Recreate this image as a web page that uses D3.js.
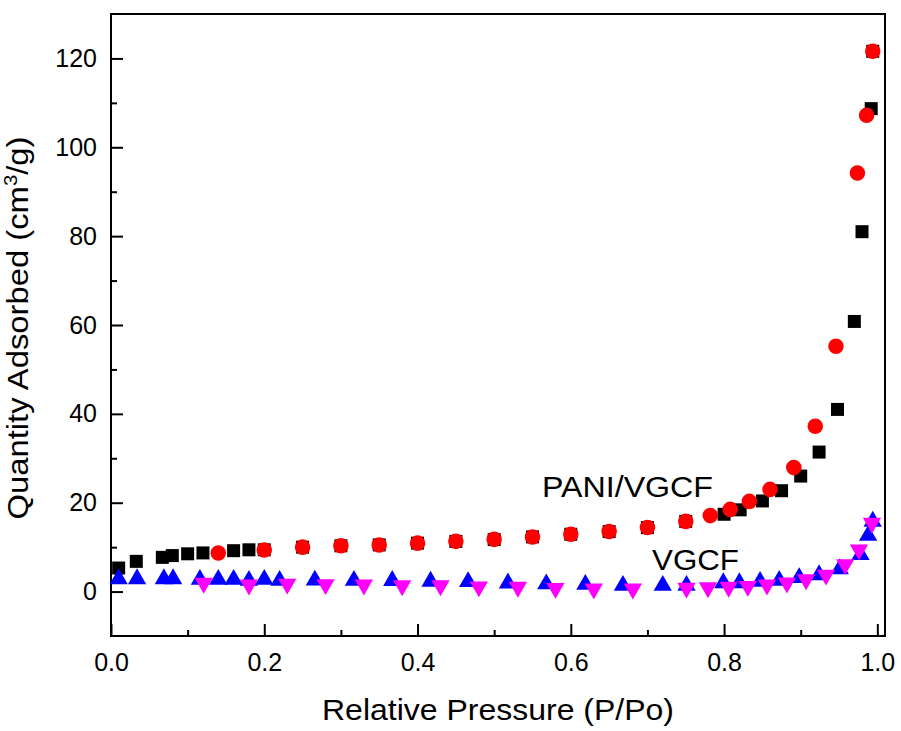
<!DOCTYPE html>
<html>
<head>
<meta charset="utf-8">
<script src="https://cdn.jsdelivr.net/npm/d3@7"></script>
<style>
  body { margin: 0; background: #fff; }
  svg { font-family: Arial, "Liberation Sans", sans-serif; }
  .tick text { font-size: 25px; fill: #000; }
  .tick line { stroke: #000; stroke-width: 2; }
</style>
</head>
<body>
<div id="chart"></div>
<script>
// PANI/VGCF adsorption (black squares)
var paniAdsX = [0.01, 0.033, 0.067, 0.08, 0.10, 0.12, 0.16, 0.18, 0.20, 0.25, 0.30, 0.35, 0.40, 0.45, 0.50,
  0.55, 0.60, 0.65, 0.70, 0.75, 0.80, 0.821, 0.85, 0.875, 0.90, 0.924, 0.948, 0.970, 0.980, 0.992, 0.994];
var paniAdsY = [5.3, 6.8, 7.7, 8.1, 8.5, 8.7, 9.2, 9.4, 9.4, 10.0, 10.3, 10.5, 10.9, 11.3, 11.7,
  12.3, 12.9, 13.5, 14.4, 15.8, 17.4, 18.4, 20.4, 22.7, 26.0, 31.4, 41.0, 60.8, 81.0, 108.7, 121.6];

// PANI/VGCF desorption (red circles)
var paniDesX = [0.14, 0.20, 0.25, 0.30, 0.35, 0.40, 0.45, 0.50, 0.55, 0.60, 0.65, 0.70, 0.75, 0.782,
  0.808, 0.833, 0.860, 0.891, 0.919, 0.946, 0.974, 0.986, 0.994];
var paniDesY = [8.7, 9.35, 10.0, 10.3, 10.5, 10.9, 11.3, 11.75, 12.3, 12.9, 13.5, 14.4, 15.8, 17.1,
  18.5, 20.3, 23.0, 27.9, 37.2, 55.2, 94.2, 107.2, 121.6];

// VGCF adsorption (blue up triangles)
var vgcfAdsX = [0.01, 0.034, 0.069, 0.081, 0.116, 0.14, 0.16, 0.18, 0.20, 0.22, 0.266, 0.317, 0.367,
  0.417, 0.466, 0.518, 0.568, 0.619, 0.668, 0.72, 0.751, 0.799, 0.82, 0.847, 0.872, 0.898, 0.924,
  0.951, 0.978, 0.988, 0.994];
var vgcfAdsY = [2.85, 2.85, 2.85, 2.85, 2.7, 2.7, 2.7, 2.5, 2.7, 2.5, 2.55, 2.5, 2.45,
  2.3, 2.2, 1.9, 1.7, 1.6, 1.35, 1.35, 1.35, 1.95, 1.95, 2.25, 2.5, 3.1, 3.75,
  5.1, 8.3, 12.6, 15.8];

// VGCF desorption (magenta down triangles)
var vgcfDesX = [0.121, 0.18, 0.23, 0.28, 0.33, 0.38, 0.43, 0.48, 0.531, 0.58, 0.63, 0.681, 0.751,
  0.779, 0.806, 0.831, 0.856, 0.882, 0.907, 0.933, 0.958, 0.976, 0.993];
var vgcfDesY = [1.9, 1.5, 1.7, 1.6, 1.5, 1.35, 1.35, 1.1, 1.0, 0.75, 0.6, 0.6, 0.8,
  0.9, 1.0, 1.2, 1.5, 1.95, 2.7, 3.75, 6.1, 9.4, 15.4];

var xTicks = [0, 0.2, 0.4, 0.6, 0.8, 1.0];
var xMinor = [0.1, 0.3, 0.5, 0.7, 0.9];
var yTicks = [0, 20, 40, 60, 80, 100, 120];
var yMinor = [10, 30, 50, 70, 90, 110];

var width = 901, height = 731;
var margin = { top: 14, right: 16, bottom: 95, left: 111 };

var svg = d3.select("#chart").append("svg")
  .attr("width", width)
  .attr("height", height);

var x = d3.scaleLinear().domain([0, 1.01]).range([margin.left, width - margin.right]);
var y = d3.scaleLinear().domain([-10, 130]).range([height - margin.bottom, margin.top]);

function zip(xs, ys) {
  return xs.map(function (v, i) { return { x: v, y: ys[i] }; });
}

// major + minor ticks, pointing inward
svg.append("g")
  .attr("transform", "translate(0," + y.range()[0] + ")")
  .call(d3.axisBottom(x).tickValues(xTicks).tickSize(-12).tickPadding(17).tickFormat(d3.format(".1f")))
  .call(function (g) { g.select(".domain").remove(); });

svg.append("g")
  .attr("transform", "translate(0," + y.range()[0] + ")")
  .call(d3.axisBottom(x).tickValues(xMinor).tickSize(-6).tickFormat(""))
  .call(function (g) { g.select(".domain").remove(); });

svg.append("g")
  .attr("transform", "translate(" + x.range()[0] + ",0)")
  .call(d3.axisLeft(y).tickValues(yTicks).tickSize(-12).tickPadding(14))
  .call(function (g) { g.select(".domain").remove(); });

svg.append("g")
  .attr("transform", "translate(" + x.range()[0] + ",0)")
  .call(d3.axisLeft(y).tickValues(yMinor).tickSize(-6).tickFormat(""))
  .call(function (g) { g.select(".domain").remove(); });

// frame
svg.append("rect")
  .attr("x", x.range()[0])
  .attr("y", y.range()[1])
  .attr("width", x.range()[1] - x.range()[0])
  .attr("height", y.range()[0] - y.range()[1])
  .attr("fill", "none")
  .attr("stroke", "#000")
  .attr("stroke-width", 2);

// markers
var square = d3.symbol().type(d3.symbolSquare).size(169);
var circle = d3.symbol().type(d3.symbolCircle).size(190);
var tri = d3.symbol().type(d3.symbolTriangle).size(145);

function drawSeries(data, sym, color, rotate) {
  svg.append("g")
    .selectAll("path")
    .data(data)
    .enter()
    .append("path")
    .attr("d", sym)
    .attr("fill", color)
    .attr("transform", function (d) {
      return "translate(" + x(d.x) + "," + y(d.y) + ")" + (rotate ? " rotate(180)" : "");
    });
}

drawSeries(zip(paniAdsX, paniAdsY), square, "#000000", false);
drawSeries(zip(paniDesX, paniDesY), circle, "#ff0000", false);
drawSeries(zip(vgcfAdsX, vgcfAdsY), tri, "#0000ff", false);
drawSeries(zip(vgcfDesX, vgcfDesY), tri, "#ff00ff", true);

// series labels
svg.append("text")
  .attr("x", 542).attr("y", 497)
  .attr("font-size", 30)
  .attr("textLength", 171).attr("lengthAdjust", "spacingAndGlyphs")
  .text("PANI/VGCF");

svg.append("text")
  .attr("x", 652).attr("y", 570)
  .attr("font-size", 30)
  .attr("textLength", 87).attr("lengthAdjust", "spacingAndGlyphs")
  .text("VGCF");

// axis titles
svg.append("text")
  .attr("x", 498).attr("y", 720)
  .attr("text-anchor", "middle")
  .attr("font-size", 29)
  .attr("textLength", 352).attr("lengthAdjust", "spacingAndGlyphs")
  .text("Relative Pressure (P/Po)");

var yt = svg.append("text")
  .attr("transform", "translate(28,328) rotate(-90)")
  .attr("text-anchor", "middle")
  .attr("font-size", 29)
  .attr("textLength", 383).attr("lengthAdjust", "spacingAndGlyphs");
yt.append("tspan").text("Quantity Adsorbed (cm");
yt.append("tspan").attr("dy", -11).attr("font-size", 18).text("3");
yt.append("tspan").attr("dy", 11).text("/g)");
</script>
</body>
</html>
